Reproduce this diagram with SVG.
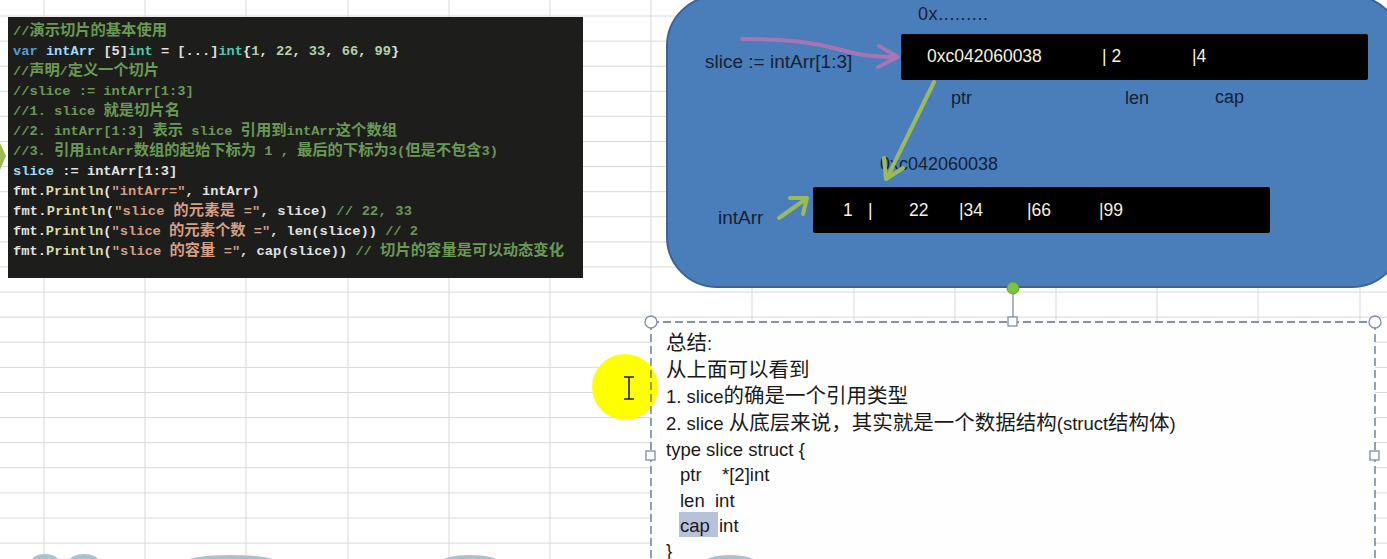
<svg xmlns="http://www.w3.org/2000/svg" width="1387" height="559" viewBox="0 0 1387 559">
<style>
.grid line{stroke:#d9d9d9;stroke-width:1}
.code{font-family:"Liberation Mono","Noto Sans CJK SC",monospace;font-size:13.7px;font-weight:bold;fill:#e2e2e2}
.code .z{font-size:15.3px}
.cm{fill:#6a9955}
.kw{fill:#569cd6}
.id{fill:#9cdcfe}
.ty{fill:#4ec9b0}
.nu{fill:#b5cea8}
.fn{fill:#dcdcaa}
.st{fill:#d69d85}
.lbl{font-family:"Liberation Sans","Noto Sans CJK SC",sans-serif;fill:#172033}
.wt{font-family:"Liberation Sans",sans-serif;font-size:17.5px;fill:#f7f0dc}
.sum{font-family:"Liberation Sans","Noto Sans CJK SC",sans-serif;font-size:18.5px;fill:#1a1a1a}
.sum .z{font-size:20.5px}
.conn{fill:none;stroke-linecap:round;stroke-linejoin:round}
.handle{fill:#ffffff;stroke:#7f8fa3;stroke-width:1.3}
</style>
<rect x="0" y="0" width="1387" height="559" fill="#ffffff"/>
<g class="grid" id="grid">
<line x1="0" y1="16" x2="1387" y2="16"/><line x1="0" y1="41.1" x2="1387" y2="41.1"/><line x1="0" y1="66.2" x2="1387" y2="66.2"/><line x1="0" y1="91.3" x2="1387" y2="91.3"/><line x1="0" y1="116.4" x2="1387" y2="116.4"/><line x1="0" y1="141.5" x2="1387" y2="141.5"/><line x1="0" y1="166.6" x2="1387" y2="166.6"/><line x1="0" y1="191.7" x2="1387" y2="191.7"/><line x1="0" y1="216.8" x2="1387" y2="216.8"/><line x1="0" y1="241.9" x2="1387" y2="241.9"/><line x1="0" y1="267" x2="1387" y2="267"/><line x1="0" y1="292.1" x2="1387" y2="292.1"/><line x1="0" y1="317.2" x2="1387" y2="317.2"/><line x1="0" y1="342.3" x2="1387" y2="342.3"/><line x1="0" y1="367.4" x2="1387" y2="367.4"/><line x1="0" y1="392.5" x2="1387" y2="392.5"/><line x1="0" y1="417.6" x2="1387" y2="417.6"/><line x1="0" y1="442.7" x2="1387" y2="442.7"/><line x1="0" y1="467.8" x2="1387" y2="467.8"/><line x1="0" y1="492.9" x2="1387" y2="492.9"/><line x1="0" y1="518" x2="1387" y2="518"/><line x1="0" y1="543.1" x2="1387" y2="543.1"/>
<line x1="44" y1="0" x2="44" y2="559"/><line x1="145" y1="0" x2="145" y2="559"/><line x1="246" y1="0" x2="246" y2="559"/><line x1="348" y1="0" x2="348" y2="559"/><line x1="449" y1="0" x2="449" y2="559"/><line x1="550" y1="0" x2="550" y2="559"/><line x1="651" y1="0" x2="651" y2="559"/><line x1="752" y1="0" x2="752" y2="559"/><line x1="854" y1="0" x2="854" y2="559"/><line x1="955" y1="0" x2="955" y2="559"/><line x1="1056" y1="0" x2="1056" y2="559"/><line x1="1157" y1="0" x2="1157" y2="559"/><line x1="1258" y1="0" x2="1258" y2="559"/><line x1="1360" y1="0" x2="1360" y2="559"/>
</g>
<polygon id="edge-arrow" points="0,143 6,156 0,170" fill="#9bbb59"/>
<g id="code-block">
<rect x="8" y="17" width="575" height="261" fill="#1d1e1c"/>
<g class="code">
<text x="13" y="35" class="cm" textLength="154" lengthAdjust="spacing">//<tspan class="z">演示切片的基本使用</tspan></text>
<text x="13" y="55"><tspan class="kw">var</tspan> <tspan class="id">intArr</tspan> [5]<tspan class="ty">int</tspan> = [...]<tspan class="ty">int</tspan>{<tspan class="nu">1</tspan>, <tspan class="nu">22</tspan>, <tspan class="nu">33</tspan>, <tspan class="nu">66</tspan>, <tspan class="nu">99</tspan>}</text>
<text x="13" y="75" class="cm" textLength="146" lengthAdjust="spacing">//<tspan class="z">声明</tspan>/<tspan class="z">定义一个切片</tspan></text>
<text x="13" y="95" class="cm">//slice := intArr[1:3]</text>
<text x="13" y="115" class="cm" textLength="167" lengthAdjust="spacing">//1. slice <tspan class="z">就是切片名</tspan></text>
<text x="13" y="135" class="cm" textLength="384" lengthAdjust="spacing">//2. intArr[1:3] <tspan class="z">表示</tspan> slice <tspan class="z">引用到</tspan>intArr<tspan class="z">这个数组</tspan></text>
<text x="13" y="155" class="cm" textLength="485" lengthAdjust="spacing">//3. <tspan class="z">引用</tspan>intArr<tspan class="z">数组的起始下标为</tspan> 1 , <tspan class="z">最后的下标为</tspan>3(<tspan class="z">但是不包含</tspan>3)</text>
<text x="13" y="175"><tspan class="id">slice</tspan> := intArr[1:3]</text>
<text x="13" y="195">fmt.<tspan class="fn">Println</tspan>(<tspan class="st">"intArr="</tspan>, intArr)</text>
<text x="13" y="215" textLength="399" lengthAdjust="spacing">fmt.<tspan class="fn">Println</tspan>(<tspan class="st">"slice <tspan class="z">的元素是</tspan> ="</tspan>, slice) <tspan class="cm">//  22, 33</tspan></text>
<text x="13" y="235" textLength="405" lengthAdjust="spacing">fmt.<tspan class="fn">Println</tspan>(<tspan class="st">"slice <tspan class="z">的元素个数</tspan> ="</tspan>, len(slice)) <tspan class="cm">// 2</tspan></text>
<text x="13" y="255" textLength="551" lengthAdjust="spacing">fmt.<tspan class="fn">Println</tspan>(<tspan class="st">"slice <tspan class="z">的容量</tspan> ="</tspan>, cap(slice)) <tspan class="cm">// <tspan class="z">切片的容量是可以动态变化</tspan></tspan></text>
</g>
</g>
<g id="memory-panel">
<rect x="667" y="-4" width="735" height="291" rx="50" fill="#4a7ebb" stroke="#38649a" stroke-width="2"/>
<text class="lbl" x="918" y="20" font-size="18" textLength="70" lengthAdjust="spacing">0x.........</text>
<text class="lbl" x="705" y="68" font-size="19">slice := intArr[1:3]</text>
<text class="lbl" x="718" y="224" font-size="19">intArr</text>
</g>
<g id="slice-struct">
<rect x="901" y="34" width="467" height="46" rx="2" fill="#000000"/>
<text class="wt" x="927" y="62">0xc042060038</text>
<text class="wt" x="1102" y="62">| 2</text>
<text class="wt" x="1192" y="62">|4</text>
<text class="lbl" x="951" y="104" font-size="18">ptr</text>
<text class="lbl" x="1125" y="104" font-size="18">len</text>
<text class="lbl" x="1215" y="103" font-size="18">cap</text>
</g>
<g id="int-array">
<text class="lbl" x="880" y="170" font-size="18">0xc042060038</text>
<rect x="813" y="187" width="457" height="46" rx="2" fill="#000000"/>
<text class="wt" x="843" y="216">1</text>
<text class="wt" x="868" y="216">|</text>
<text class="wt" x="909" y="216">22</text>
<text class="wt" x="959" y="216">|34</text>
<text class="wt" x="1027" y="216">|66</text>
<text class="wt" x="1099" y="216">|99</text>
</g>
<g id="connectors">
<path class="conn" d="M742,39 C790,39 815,43 838,49 C858,55 872,57 897,57" stroke="#a874b4" stroke-width="4"/>
<path class="conn" d="M879,46 L898,57 L878,67" stroke="#a874b4" stroke-width="4"/>
<path class="conn" d="M934,82 L887,178" stroke="#9bbb59" stroke-width="4"/>
<path class="conn" d="M884,158 L886,179 L903,168" stroke="#9bbb59" stroke-width="4"/>
<path class="conn" d="M779,218 L806,199" stroke="#9bbb59" stroke-width="4"/>
<path class="conn" d="M790,198 L807,198 L803,214" stroke="#9bbb59" stroke-width="4"/>
</g>
<g id="summary-box">
<rect x="651" y="322" width="724" height="250" fill="#fefefe"/>
<circle cx="625" cy="387" r="33" fill="#ffff00"/>
<path d="M624,377 h10 M629,377 v22 M624,399 h10" stroke="#222222" stroke-width="1.6" fill="none"/>
<rect x="679" y="512" width="39" height="25" fill="#b6c2da"/>
<path d="M651,322 H1375 M651,322 V559 M1375,322 V559" fill="none" stroke="#5b7090" stroke-width="1.3" stroke-dasharray="8 4"/>
<line x1="1013" y1="294" x2="1013" y2="318" stroke="#7f8fa3" stroke-width="1.3"/>
<circle cx="1013" cy="288" r="6" fill="#7dc342" stroke="#5e9a34" stroke-width="1"/>
<circle class="handle" cx="651" cy="322" r="6"/>
<circle class="handle" cx="1375" cy="322" r="6"/>
<rect class="handle" x="1008" y="317" width="9" height="9"/>
<rect class="handle" x="646" y="451" width="9" height="9"/>
<rect class="handle" x="1370" y="451" width="9" height="9"/>
<g class="sum">
<text x="666" y="350"><tspan class="z">总结</tspan>:</text>
<text x="666" y="377"><tspan class="z">从上面可以看到</tspan></text>
<text x="666" y="403">1. slice<tspan class="z">的确是一个引用类型</tspan></text>
<text x="666" y="430">2. slice <tspan class="z">从底层来说，其实就是一个数据结构</tspan>(struct<tspan class="z">结构体</tspan>)</text>
<text x="666" y="456">type slice struct {</text>
<text x="680" y="481">ptr<tspan x="722">*[2]int</tspan></text>
<text x="680" y="507">len<tspan x="715">int</tspan></text>
<text x="680" y="532">cap<tspan x="719">int</tspan></text>
<text x="666" y="557">}</text>
</g>
</g>
<g id="bottom-shapes" fill="#aac3cb">
<ellipse cx="45" cy="562" rx="14" ry="8"/>
<ellipse cx="84" cy="562" rx="15" ry="8"/>
<ellipse cx="231" cy="563" rx="48" ry="8"/>
<ellipse cx="470" cy="563" rx="30" ry="8"/>
<ellipse cx="730" cy="564" rx="28" ry="9"/>
</g>
</svg>
